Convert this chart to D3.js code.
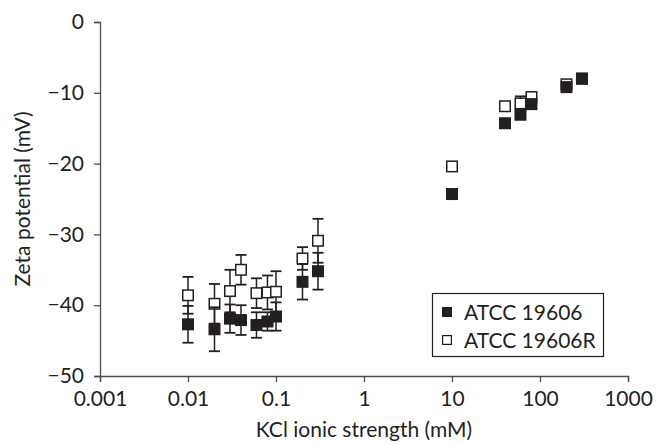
<!DOCTYPE html>
<html>
<head>
<meta charset="utf-8">
<script src="https://cdn.jsdelivr.net/npm/d3@7/dist/d3.min.js"></script>
<style>
  html, body { margin: 0; padding: 0; background: #fff; }
  svg { display: block; }
  text { font-family: Lato, "Open Sans", sans-serif; fill: #231f20; }
</style>
</head>
<body>
<svg id="chart" width="664" height="444"></svg>
<script>
// ---- data ----
const kclFilled = [0.01, 0.02, 0.03, 0.04, 0.06, 0.08, 0.1, 0.2, 0.3, 10, 40, 60, 80, 200, 300];
const zetaFilled = [-42.7, -43.4, -41.9, -42.1, -42.8, -42.3, -41.6, -36.7, -35.2, -24.3, -14.3, -13.1, -11.6, -9.2, -8.0];
const errFilled = [2.6, 3.1, 2.0, 2.1, 1.8, 1.3, 2.0, 2.5, 2.6, 0.3, 0.3, 0.3, 0.3, 0.3, 0.3];

const kclOpen = [0.01, 0.02, 0.03, 0.04, 0.06, 0.08, 0.1, 0.2, 0.3, 10, 40, 60, 80, 200, 300];
const zetaOpen = [-38.6, -39.8, -38.0, -35.0, -38.3, -38.2, -38.1, -33.4, -30.9, -20.4, -11.9, -11.5, -10.6, -8.8, -8.0];
const errOpen = [2.6, 2.8, 3.0, 2.1, 2.1, 2.4, 2.9, 1.6, 3.1, 0.5, 0.3, 1.0, 0.3, 0.4, 0.3];

const xTicks = [0.001, 0.01, 0.1, 1, 10, 100, 1000];
const xTickLabels = ["0.001", "0.01", "0.1", "1", "10", "100", "1000"];
const yTicks = [0, -10, -20, -30, -40, -50];
const seriesNames = ["ATCC 19606", "ATCC 19606R"];
const xTitle = "KCl ionic strength (mM)";
const yTitle = "Zeta potential (mV)";

// ---- layout ----
const svg = d3.select("#chart");
const mLeft = 100, mRight = 628, mTop = 22, mBottom = 376;
const ink = "#231f20";
const axisCol = "#4d4d4d";
const fs = 21;

const x = d3.scaleLog().domain([0.001, 1000]).range([mLeft, mRight]);
const y = d3.scaleLinear().domain([-50, 0]).range([mBottom, mTop]);

// axes
const xAxis = d3.axisBottom(x).tickValues(xTicks)
  .tickFormat((d, i) => xTickLabels[i]).tickSizeOuter(0).tickSize(6).tickPadding(9);
const yAxis = d3.axisLeft(y).tickValues(yTicks)
  .tickFormat(d => d === 0 ? "0" : "\u2212" + Math.abs(d)).tickSizeOuter(0).tickSize(6).tickPadding(10);

const gx = svg.append("g").attr("transform", `translate(0,${mBottom})`).call(xAxis);
const gy = svg.append("g").attr("transform", `translate(${mLeft},0)`).call(yAxis);
[gx, gy].forEach(g => {
  g.select(".domain").attr("stroke", axisCol).attr("stroke-width", 1.3);
  g.selectAll(".tick line").attr("stroke", axisCol).attr("stroke-width", 1.3);
  g.selectAll(".tick text").attr("font-size", fs).attr("font-family", "Lato, sans-serif").attr("fill", ink);
});

// titles
svg.append("text").attr("x", (mLeft + mRight) / 2).attr("y", 437)
  .attr("text-anchor", "middle").attr("font-size", fs).text(xTitle);
svg.append("text").attr("transform", `translate(30,${(mTop + mBottom) / 2}) rotate(-90)`)
  .attr("text-anchor", "middle").attr("font-size", fs).text(yTitle);

// ---- markers ----
const sq = 12, cap = 11;
function drawSeries(xs, ys, es, filled) {
  const g = svg.append("g");
  const pts = xs.map((d, i) => ({ x: d, y: ys[i], e: es[i] }));
  const eb = g.selectAll("g.eb").data(pts).enter().append("g");
  eb.append("line")
    .attr("x1", d => x(d.x)).attr("x2", d => x(d.x))
    .attr("y1", d => y(d.y + d.e)).attr("y2", d => y(d.y - d.e))
    .attr("stroke", ink).attr("stroke-width", 1.5);
  [1, -1].forEach(s => {
    eb.append("line")
      .attr("x1", d => x(d.x) - cap / 2).attr("x2", d => x(d.x) + cap / 2)
      .attr("y1", d => y(d.y + s * d.e)).attr("y2", d => y(d.y + s * d.e))
      .attr("stroke", ink).attr("stroke-width", 1.8);
  });
  g.selectAll("rect").data(pts).enter().append("rect")
    .attr("x", d => x(d.x) - sq / 2 + (filled ? 0 : 0.75))
    .attr("y", d => y(d.y) - sq / 2 + (filled ? 0 : 0.75))
    .attr("width", filled ? sq : sq - 1.5).attr("height", filled ? sq : sq - 1.5)
    .attr("fill", filled ? ink : "#fff")
    .attr("stroke", filled ? "none" : ink).attr("stroke-width", 1.5);
}
drawSeries(kclOpen, zetaOpen, errOpen, false);
drawSeries(kclFilled, zetaFilled, errFilled, true);

// ---- legend ----
const lg = svg.append("g");
lg.append("rect").attr("x", 432.5).attr("y", 293.5).attr("width", 171).attr("height", 63)
  .attr("fill", "#fff").attr("stroke", ink).attr("stroke-width", 1.2);
seriesNames.forEach((name, i) => {
  const cy = 312 + i * 28;
  const filled = i === 0;
  lg.append("rect").attr("x", 447 - 5 + (filled ? 0 : 0.6)).attr("y", cy - 5 + (filled ? 0 : 0.6))
    .attr("width", filled ? 10 : 8.8).attr("height", filled ? 10 : 8.8)
    .attr("fill", filled ? ink : "#fff").attr("stroke", filled ? "none" : ink).attr("stroke-width", 1.2);
  lg.append("text").attr("x", 464).attr("y", cy + 7.5).attr("font-size", fs).text(name);
});
</script>
</body>
</html>
